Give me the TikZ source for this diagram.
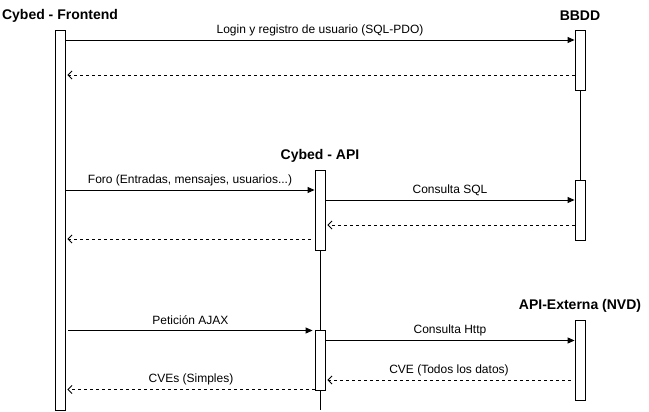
\documentclass[tikz,border=0pt]{standalone}
\usepackage{fontspec}
\setmainfont{Liberation Sans}
\usetikzlibrary{arrows.meta}
\begin{document}
\begin{tikzpicture}[x=1pt,y=-1pt,
  actbox/.style={draw=black,fill=white,line width=0.9pt,minimum width=10pt,inner sep=0pt,anchor=north},
  lifeline/.style={draw=black,line width=0.9pt},
  title/.style={font=\fontsize{14}{16}\selectfont\bfseries,inner sep=0pt},
  lbl/.style={font=\fontsize{12}{14}\selectfont,inner sep=0pt},
  msg/.style={draw=black,line width=0.9pt,-{Triangle[length=7pt,width=6pt]}},
  ret/.style={draw=black,line width=0.8pt,dash pattern=on 3pt off 3pt,-{Straight Barb[length=4pt,width=8pt]}}
]
\useasboundingbox (0,0) rectangle (649,412);
% titles
\node[title] (tfe) at (60,16) {Cybed - Frontend};
\node[title] (tdb) at (580,16) {BBDD};
\node[title] (tapi) at (320,156) {Cybed - API};
\node[title] (text) at (580,306) {API-Externa (NVD)};
% lifelines
\coordinate (dbl1) at (580,90);
\coordinate (dbl2) at (580,180);
\coordinate (apil1) at (320,250);
\coordinate (apil2) at (320,410);
\draw[lifeline] (dbl1) -- (dbl2);
\draw[lifeline] (apil1) -- (apil2);
% activation boxes
\node[actbox,minimum height=380pt] (fe) at (60,30) {};
\node[actbox,minimum height=60pt] (db1) at (580,30) {};
\node[actbox,minimum height=60pt] (db2) at (580,180) {};
\node[actbox,minimum height=80pt] (api1) at (320,170) {};
\node[actbox,minimum height=60pt] (api2) at (320,330) {};
\node[actbox,minimum height=80pt] (ext) at (580,320) {};
% messages
\draw[msg] (fe.east |- 0,40) -- node[lbl,midway,yshift=10pt] (l1) {Login y registro de usuario (SQL-PDO)} (db1.west |- 0,40);
\draw[ret] (db1.west |- 0,75) -- ([xshift=2pt]fe.east |- 0,75);
\draw[msg] (fe.east |- 0,190) -- node[lbl,midway,yshift=10pt] (l2) {Foro (Entradas, mensajes, usuarios...)} (api1.west |- 0,190);
\draw[msg] (api1.east |- 0,200) -- node[lbl,midway,yshift=10pt] (l3) {Consulta SQL} (db2.west |- 0,200);
\draw[ret] (db2.west |- 0,225) -- ([xshift=2pt]api1.east |- 0,225);
\draw[ret] ([xshift=-4pt]api1.west |- 0,239) -- ([xshift=2pt]fe.east |- 0,239);
\draw[msg] ([xshift=3pt]fe.east |- 0,330.5) -- node[lbl,midway,yshift=10pt] (l4) {Petición AJAX} ([xshift=-2pt]api2.west |- 0,330.5);
\draw[msg] (api2.east |- 0,340.5) -- node[lbl,midway,yshift=10pt] (l5) {Consulta Http} (ext.west |- 0,340.5);
\draw[ret] ([xshift=-4pt]ext.west |- 0,380) -- node[lbl,midway,yshift=10pt] (l6) {CVE (Todos los datos)} ([xshift=2pt]api2.east |- 0,380);
\draw[ret] (api2.west |- 0,389.5) -- node[lbl,midway,yshift=10pt] (l7) {CVEs (Simples)} ([xshift=2pt]fe.east |- 0,389.5);
\end{tikzpicture}
\end{document}
